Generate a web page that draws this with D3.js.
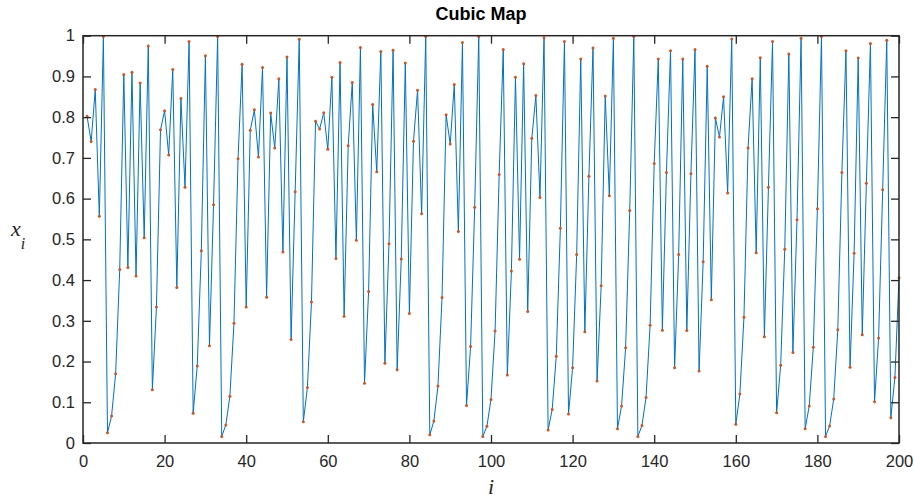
<!DOCTYPE html>
<html>
<head>
<meta charset="utf-8">
<script src="https://cdn.jsdelivr.net/npm/d3@7"></script>
<style>
  html, body { margin: 0; padding: 0; background: #ffffff; }
  svg { display: block; }
</style>
</head>
<body>
<div id="chart"></div>
<script>
// Iterates of the cubic map, x_1 ... x_200
const xValues = [
  0.802, 0.740, 0.868, 0.557, 0.998, 0.025, 0.066, 0.170, 0.426, 0.905,
  0.431, 0.910, 0.410, 0.884, 0.504, 0.975, 0.131, 0.334, 0.769, 0.816,
  0.707, 0.917, 0.382, 0.846, 0.628, 0.986, 0.073, 0.189, 0.472, 0.951,
  0.239, 0.585, 0.998, 0.016, 0.044, 0.115, 0.294, 0.698, 0.930, 0.334,
  0.768, 0.818, 0.702, 0.922, 0.358, 0.810, 0.724, 0.894, 0.469, 0.948,
  0.254, 0.617, 0.991, 0.052, 0.136, 0.346, 0.790, 0.771, 0.811, 0.721,
  0.898, 0.453, 0.934, 0.311, 0.730, 0.885, 0.498, 0.971, 0.147, 0.372,
  0.831, 0.666, 0.961, 0.196, 0.489, 0.964, 0.180, 0.452, 0.933, 0.318,
  0.741, 0.866, 0.563, 0.998, 0.020, 0.054, 0.140, 0.357, 0.806, 0.734,
  0.880, 0.519, 0.983, 0.092, 0.237, 0.579, 0.998, 0.016, 0.041, 0.107,
  0.275, 0.659, 0.966, 0.167, 0.422, 0.898, 0.451, 0.931, 0.323, 0.748,
  0.853, 0.603, 0.995, 0.032, 0.082, 0.213, 0.527, 0.986, 0.071, 0.185,
  0.463, 0.943, 0.273, 0.655, 0.970, 0.152, 0.386, 0.852, 0.607, 0.994,
  0.035, 0.091, 0.234, 0.571, 0.998, 0.016, 0.043, 0.112, 0.289, 0.686,
  0.943, 0.277, 0.664, 0.963, 0.185, 0.463, 0.943, 0.276, 0.661, 0.966,
  0.177, 0.445, 0.925, 0.352, 0.798, 0.751, 0.850, 0.614, 0.992, 0.046,
  0.120, 0.309, 0.724, 0.894, 0.467, 0.946, 0.261, 0.628, 0.986, 0.074,
  0.191, 0.476, 0.955, 0.222, 0.548, 0.994, 0.035, 0.091, 0.235, 0.575,
  0.998, 0.016, 0.042, 0.108, 0.278, 0.664, 0.963, 0.186, 0.466, 0.945,
  0.266, 0.638, 0.981, 0.101, 0.258, 0.622, 0.989, 0.062, 0.161, 0.406
];
const iterationStart = 1;

const xTickValues = [0, 20, 40, 60, 80, 100, 120, 140, 160, 180, 200];
const yTickValues = [0, 0.1, 0.2, 0.3, 0.4, 0.5, 0.6, 0.7, 0.8, 0.9, 1];
const yTickLabels = ["0", "0.1", "0.2", "0.3", "0.4", "0.5", "0.6", "0.7", "0.8", "0.9", "1"];

const chartTitle = "Cubic Map";

const width = 914, height = 499;
const plot = { left: 83, right: 899, top: 35.7, bottom: 443 };

const points = xValues.map((v, k) => ({ i: iterationStart + k, v }));

const x = d3.scaleLinear().domain([0, 200]).range([plot.left, plot.right]);
const y = d3.scaleLinear().domain([0, 1]).range([plot.bottom, plot.top]);

const axisColor = "#262626";
const lineColor = "#0072BD";
const markerColor = "#D95319";
const tickFont = "'Liberation Sans', Arial, Helvetica, sans-serif";

const svg = d3.select("#chart").append("svg")
  .attr("width", width)
  .attr("height", height);

svg.append("rect").attr("width", width).attr("height", height).attr("fill", "#ffffff");

const clipId = "plot-clip";
svg.append("clipPath").attr("id", clipId)
  .append("rect")
  .attr("x", plot.left).attr("y", plot.top - 3)
  .attr("width", plot.right - plot.left + 3)
  .attr("height", plot.bottom - plot.top + 6);

// series line
const line = d3.line().x(d => x(d.i)).y(d => y(d.v));
svg.append("path")
  .datum(points)
  .attr("clip-path", `url(#${clipId})`)
  .attr("fill", "none")
  .attr("stroke", lineColor)
  .attr("stroke-width", 1)
  .attr("stroke-linejoin", "round")
  .attr("d", line);

// point markers
svg.append("g")
  .selectAll("circle")
  .data(points)
  .join("circle")
  .attr("cx", d => x(d.i))
  .attr("cy", d => y(d.v))
  .attr("r", 1.5)
  .attr("fill", markerColor);

// axes: ticks pointing inward on all four sides
const tickLen = 8;
function styleAxis(g) {
  g.select(".domain").remove();
  g.selectAll(".tick line").attr("stroke", axisColor).attr("stroke-width", 1.3);
  g.selectAll(".tick text")
    .attr("fill", axisColor)
    .attr("font-family", tickFont)
    .attr("font-size", 16.5);
}

svg.append("g")
  .attr("transform", `translate(0,${plot.bottom})`)
  .call(d3.axisBottom(x).tickValues(xTickValues).tickFormat(d3.format("d"))
    .tickSizeInner(-tickLen).tickSizeOuter(0).tickPadding(12))
  .call(styleAxis);

svg.append("g")
  .attr("transform", `translate(0,${plot.top})`)
  .call(d3.axisTop(x).tickValues(xTickValues).tickFormat("")
    .tickSizeInner(-tickLen).tickSizeOuter(0))
  .call(styleAxis);

svg.append("g")
  .attr("transform", `translate(${plot.left},0)`)
  .call(d3.axisLeft(y).tickValues(yTickValues)
    .tickFormat((d, k) => yTickLabels[k])
    .tickSizeInner(-tickLen).tickSizeOuter(0).tickPadding(8))
  .call(styleAxis);

svg.append("g")
  .attr("transform", `translate(${plot.right},0)`)
  .call(d3.axisRight(y).tickValues(yTickValues).tickFormat("")
    .tickSizeInner(-tickLen).tickSizeOuter(0))
  .call(styleAxis);

// frame
svg.append("rect")
  .attr("x", plot.left).attr("y", plot.top)
  .attr("width", plot.right - plot.left)
  .attr("height", plot.bottom - plot.top)
  .attr("fill", "none")
  .attr("stroke", axisColor)
  .attr("stroke-width", 1.5);

// title
svg.append("text")
  .attr("x", 481).attr("y", 20)
  .attr("text-anchor", "middle")
  .attr("font-family", "'Liberation Sans', Arial, Helvetica, sans-serif")
  .attr("font-weight", "bold")
  .attr("font-size", 18)
  .attr("fill", "#000000")
  .text(chartTitle);

// axis labels
const serif = "'Liberation Serif', 'Times New Roman', serif";
svg.append("text")
  .attr("x", 491).attr("y", 494)
  .attr("text-anchor", "middle")
  .attr("font-family", serif)
  .attr("font-style", "italic")
  .attr("font-size", 22)
  .attr("fill", axisColor)
  .text("i");

const yLabel = svg.append("text")
  .attr("x", 11).attr("y", 236)
  .attr("font-family", serif)
  .attr("font-style", "italic")
  .attr("font-size", 22)
  .attr("fill", axisColor);
yLabel.append("tspan").text("x");
yLabel.append("tspan").attr("dx", 0).attr("dy", 13).attr("font-size", 16).text("i");
</script>
</body>
</html>
